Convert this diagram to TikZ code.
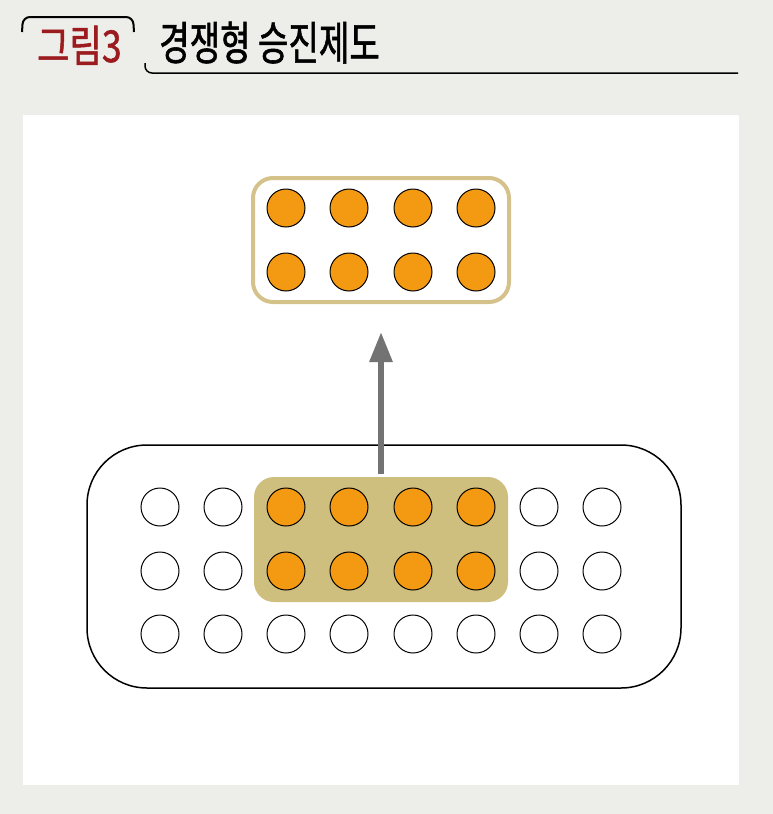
\documentclass[tikz,border=0pt]{standalone}
\usepackage{fontspec}
\newfontfamily\kr[FakeStretch=0.72,FakeBold=1.2]{Noto Sans CJK KR}
\newfontfamily\krr[FakeStretch=0.8,FakeBold=1.2]{Noto Sans CJK KR}
\usetikzlibrary{arrows.meta}
\definecolor{bgc}{HTML}{EDEDE9}
\definecolor{goldline}{HTML}{D4C28A}
\definecolor{goldfill}{HTML}{CFBF7E}
\definecolor{orng}{HTML}{F39A12}
\definecolor{titred}{HTML}{9B1B1E}
\definecolor{arrowgray}{HTML}{737373}
\tikzset{
  dot/.style={circle,draw=black,line width=1pt,minimum size=38pt,inner sep=0pt},
  odot/.style={dot,fill=orng},
  wdot/.style={dot,fill=white},
  topbox/.style={draw=goldline,line width=4pt,rounded corners=20pt,fill=white,inner sep=0pt},
  bigbox/.style={draw=black,line width=1.5pt,rounded corners=60pt,fill=white,inner sep=0pt},
  selbox/.style={fill=goldfill,rounded corners=20pt,inner sep=0pt},
  uparrow/.style={draw=arrowgray,line width=6pt,-{Triangle[width=22pt,length=30pt]}},
}
\begin{document}
\begin{tikzpicture}[x=1pt,y=-1pt]
\useasboundingbox (0,0) rectangle (773,814);
\fill[bgc] (0,0) rectangle (773,814);
\fill[white] (23,115) rectangle (739,785);
% title
\draw[line width=2pt,rounded corners=7pt] (22,32) -- (23,17) -- (133,17) -- (134,32);
\node[anchor=base west,inner sep=0pt,text=titred,font=\krr\fontsize{44}{48}\selectfont] (t1) at (37,62) {그림3};
\node[anchor=base west,inner sep=0pt,font=\kr\fontsize{46}{50}\selectfont] (t2) at (159,60) {경쟁형 승진제도};
\draw[line width=1.5pt,rounded corners=7pt] (145,63) -- (145,73) -- (738,73);
% top box
\node[topbox,minimum width=256pt,minimum height=124pt] (top) at (381,240) {};
% big box
\node[bigbox,minimum width=594pt,minimum height=243pt] (big) at (384,566.5) {};
\node[selbox,minimum width=254pt,minimum height=125pt] (sel) at (381,539.5) {};
% top dots
\foreach \x [count=\i] in {286,349,413,476}{
  \node[odot] (a\i) at (\x,208) {};
  \node[odot] (b\i) at (\x,272) {};
}
% bottom dots
\foreach \x [count=\i] in {160,223,286,349,413,476,539,602}{
  \ifnum\i>2 \ifnum\i<7
    \node[odot] (r1c\i) at (\x,507) {};
    \node[odot] (r2c\i) at (\x,571) {};
  \else
    \node[wdot] (r1c\i) at (\x,507) {};
    \node[wdot] (r2c\i) at (\x,571) {};
  \fi\else
    \node[wdot] (r1c\i) at (\x,507) {};
    \node[wdot] (r2c\i) at (\x,571) {};
  \fi
  \node[wdot] (r3c\i) at (\x,634) {};
}
% arrow
\draw[uparrow] ([yshift=3pt]sel.north) -- ([yshift=-28pt]top.south);
\end{tikzpicture}
\end{document}
